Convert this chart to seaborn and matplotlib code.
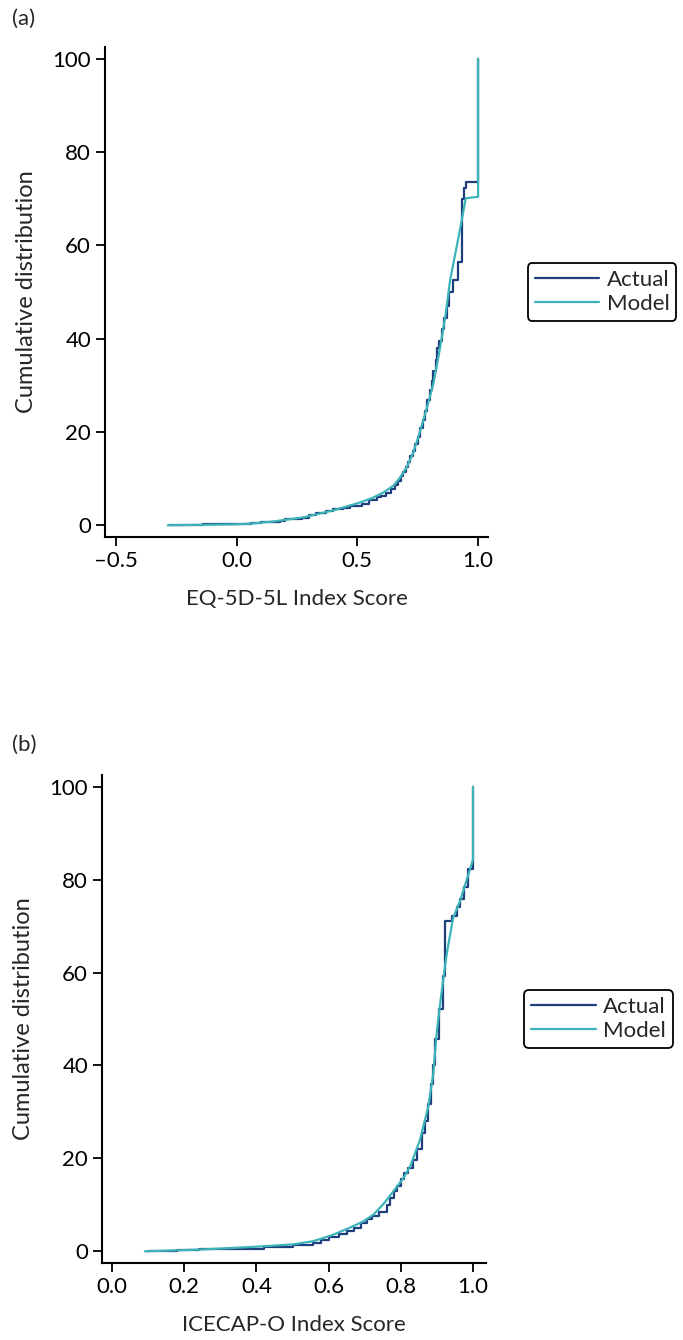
import pandas as pd
import matplotlib.pyplot as plt
import seaborn as sns

# === Panel (a): EQ-5D-5L ===
eq_actual_x = [-0.28, -0.14, 0.06, 0.10, 0.15, 0.18, 0.20, 0.27, 0.30, 0.33, 0.37, 0.40,
               0.44, 0.47, 0.52, 0.55, 0.58, 0.60, 0.62, 0.64, 0.655, 0.67, 0.68, 0.69,
               0.70, 0.71, 0.72, 0.73, 0.74, 0.75, 0.76, 0.77, 0.78, 0.79, 0.80, 0.81,
               0.815, 0.825, 0.83, 0.84, 0.85, 0.86, 0.87, 0.88, 0.897, 0.918, 0.935,
               0.94, 0.948, 1.0, 1.0]
eq_actual_y = [0.1, 0.3, 0.4, 0.6, 0.8, 1.0, 1.4, 1.6, 2.3, 2.7, 3.0, 3.4,
               3.7, 4.1, 4.6, 5.4, 6.0, 6.3, 7.0, 7.8, 8.6, 9.5, 10.5, 11.5,
               12.5, 13.6, 14.8, 16.0, 17.5, 19.0, 20.8, 22.5, 24.5, 26.8, 29.0, 31.0,
               33.0, 35.5, 38.0, 39.5, 42.0, 44.5, 47.0, 50.0, 52.5, 56.4, 70.0,
               72.2, 73.6, 100.0, 100.0]

eq_model_x = [-0.285, 0.0, 0.07, 0.15, 0.277, 0.40, 0.50, 0.56, 0.607, 0.65, 0.678, 0.705,
              0.73, 0.75, 0.773, 0.795, 0.815, 0.843, 0.865, 0.884, 0.92, 0.949, 1.0, 1.0]
eq_model_y = [0.0, 0.2, 0.4, 0.8, 1.7, 3.2, 4.7, 5.8, 7.0, 8.5, 10.3, 12.5,
              15.4, 18.5, 22.5, 26.5, 30.4, 38.2, 45.0, 52.5, 62.0, 70.1, 70.4, 100.0]

# === Panel (b): ICECAP-O ===
ic_actual_x = [0.10, 0.18, 0.24, 0.33, 0.42, 0.50, 0.558, 0.58, 0.60, 0.63, 0.65, 0.67,
               0.69, 0.706, 0.72, 0.74, 0.761, 0.77, 0.78, 0.79, 0.80, 0.81, 0.82, 0.835,
               0.845, 0.858, 0.866, 0.876, 0.884, 0.89, 0.895, 0.905, 0.918, 0.921,
               0.943, 0.955, 0.964, 0.975, 0.987, 1.0, 1.0]
ic_actual_y = [0.1, 0.2, 0.4, 0.6, 1.0, 1.3, 1.9, 2.5, 3.0, 3.7, 4.3, 5.0,
               6.0, 7.0, 7.7, 8.5, 10.0, 11.5, 13.0, 14.0, 15.5, 16.8, 18.0, 19.7,
               22.0, 25.5, 28.0, 31.8, 36.0, 40.0, 45.8, 52.2, 59.3, 71.1,
               72.2, 74.0, 75.9, 78.5, 82.3, 100.0, 100.0]

ic_model_x = [0.091, 0.25, 0.40, 0.502, 0.558, 0.61, 0.659, 0.695, 0.724, 0.752, 0.779,
              0.805, 0.826, 0.853, 0.876, 0.89, 0.899, 0.91, 0.927, 0.945, 0.964, 0.987,
              1.0, 1.0]
ic_model_y = [0.0, 0.4, 1.0, 1.5, 2.2, 3.5, 5.1, 6.4, 7.9, 10.2, 12.9,
              15.5, 18.3, 24.0, 31.1, 38.3, 46.8, 54.0, 64.0, 71.8, 75.4, 81.1,
              84.3, 100.0]

ACTUAL_COL = "#1f3e7c"
MODEL_COL = "#3cb3b8"
FS = 16

sns.set_style("ticks")
plt.rcParams['font.family'] = ['Lato', 'DejaVu Sans']
plt.rcParams['font.size'] = FS

fig = plt.figure(figsize=(6.83, 13.4), dpi=100)
ax1 = fig.add_axes([0.1537, 0.5993, 0.5608, 0.3656])
ax2 = fig.add_axes([0.1493, 0.0575, 0.5623, 0.3641])

panels = [
    (ax1, eq_actual_x, eq_actual_y, eq_model_x, eq_model_y, "EQ-5D-5L Index Score",
     (-0.545, 1.041), [-0.5, 0.0, 0.5, 1.0], 1.104),
    (ax2, ic_actual_x, ic_actual_y, ic_model_x, ic_model_y, "ICECAP-O Index Score",
     (-0.028, 1.036), [0.0, 0.2, 0.4, 0.6, 0.8, 1.0], 1.10),
]

for ax, ax_x, ax_y, mx, my, xlab, xlim, xt, lx in panels:
    act = pd.DataFrame({'x': ax_x, 'y': ax_y})
    mod = pd.DataFrame({'x': mx, 'y': my})
    sns.lineplot(data=act, x='x', y='y', ax=ax, color=ACTUAL_COL, lw=1.6,
                 estimator=None, sort=False, drawstyle='steps-post', label='Actual')
    sns.lineplot(data=mod, x='x', y='y', ax=ax, color=MODEL_COL, lw=1.6,
                 estimator=None, sort=False, label='Model')
    ax.set_xlim(*xlim)
    ax.set_ylim(-2.5, 102.5)
    ax.set_xticks(xt)
    ax.set_xticklabels([f"{v:.1f}".replace("-", "\u2013") for v in xt])
    ax.set_yticks([0, 20, 40, 60, 80, 100])
    ax.set_xlabel(xlab, fontsize=FS, labelpad=13)
    ax.set_ylabel("Cumulative distribution", fontsize=FS + 1, labelpad=11)
    ax.tick_params(axis='both', labelsize=FS, length=6.5, width=1.3, color='black',
                   labelcolor='black')
    for s in ['left', 'bottom']:
        ax.spines[s].set_linewidth(1.5)
        ax.spines[s].set_color('black')
    sns.despine(ax=ax)
    leg = ax.legend(loc='center left', bbox_to_anchor=(lx, 0.5), borderaxespad=0,
                    handlelength=2.9, handletextpad=0.35, fontsize=FS, frameon=True,
                    fancybox=True, edgecolor='black', labelspacing=0.2,
                    borderpad=0.3)
    leg.get_frame().set_linewidth(1.3)
    leg.get_frame().set_alpha(1)

fig.text(0.018, 0.986, "(a)", fontsize=FS, va='center', ha='left')
fig.text(0.018, 0.444, "(b)", fontsize=FS, va='center', ha='left')

fig.savefig("out.png", dpi=100)
